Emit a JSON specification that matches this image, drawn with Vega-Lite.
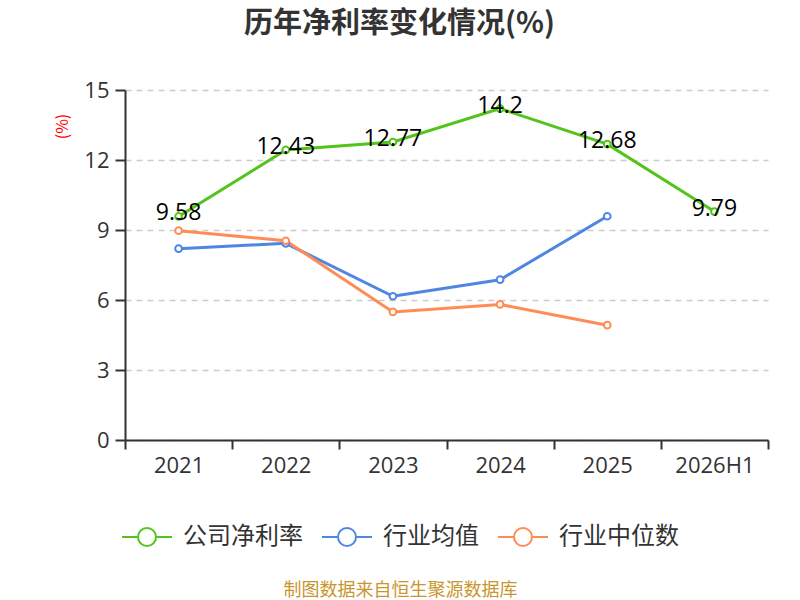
{
  "$schema": "https://vega.github.io/schema/vega-lite/v6.json",
  "width": 643,
  "height": 350,
  "autosize": {"type": "none"},
  "padding": {"left": 125, "top": 90, "right": 32, "bottom": 160},
  "background": "white",
  "config": {
    "font": "Noto Sans CJK SC",
    "view": {"stroke": null}
  },
  "title": {
    "text": "历年净利率变化情况(%)",
    "fontSize": 29,
    "fontWeight": "bold",
    "color": "#333333",
    "font": "Noto Sans CJK SC",
    "anchor": "middle",
    "frame": "group",
    "dx": -47,
    "offset": 40
  },
  "data": {
    "values": [
      {"year": "2021", "series": "公司净利率", "value": 9.58},
      {"year": "2022", "series": "公司净利率", "value": 12.43},
      {"year": "2023", "series": "公司净利率", "value": 12.77},
      {"year": "2024", "series": "公司净利率", "value": 14.2},
      {"year": "2025", "series": "公司净利率", "value": 12.68},
      {"year": "2026H1", "series": "公司净利率", "value": 9.79},
      {"year": "2021", "series": "行业均值", "value": 8.2},
      {"year": "2022", "series": "行业均值", "value": 8.43},
      {"year": "2023", "series": "行业均值", "value": 6.16},
      {"year": "2024", "series": "行业均值", "value": 6.87},
      {"year": "2025", "series": "行业均值", "value": 9.59},
      {"year": "2021", "series": "行业中位数", "value": 8.97},
      {"year": "2022", "series": "行业中位数", "value": 8.54},
      {"year": "2023", "series": "行业中位数", "value": 5.49},
      {"year": "2024", "series": "行业中位数", "value": 5.81},
      {"year": "2025", "series": "行业中位数", "value": 4.92}
    ]
  },
  "encoding": {
    "x": {
      "field": "year",
      "type": "nominal",
      "sort": null,
      "bandPosition": 0.5,
      "scale": {"type": "band", "paddingInner": 0, "paddingOuter": 0},
      "axis": {
        "title": "制图数据来自恒生聚源数据库",
        "titleColor": "#C8962E",
        "titleFont": "Noto Sans CJK SC",
        "titleFontSize": 18,
        "titleFontWeight": "normal",
        "titleX": 275,
        "titleY": 150,
        "titleAlign": "center",
        "titleBaseline": "middle",
        "labelAngle": 0,
        "labelFont": "Open Sans",
        "labelFontSize": 22,
        "labelColor": "#333333",
        "labelPadding": 6,
        "domainColor": "#333333",
        "domainWidth": 2,
        "tickColor": "#333333",
        "tickWidth": 2,
        "tickSize": 9,
        "tickBand": "extent",
        "grid": false
      }
    },
    "y": {
      "field": "value",
      "type": "quantitative",
      "scale": {"domain": [0, 15]},
      "axis": {
        "title": "(%)",
        "titleColor": "#FF0000",
        "titleFont": "Noto Sans CJK SC",
        "titleFontSize": 16,
        "titleFontWeight": "normal",
        "titleX": -63,
        "titleY": 36,
        "titleAlign": "center",
        "titleBaseline": "middle",
        "values": [0, 3, 6, 9, 12, 15],
        "labelFont": "Open Sans",
        "labelFontSize": 22,
        "labelColor": "#333333",
        "labelPadding": 6,
        "domainColor": "#333333",
        "domainWidth": 2,
        "tickColor": "#333333",
        "tickWidth": 2,
        "tickSize": 10,
        "gridColor": "#CCCCCC",
        "gridDash": [6, 5],
        "gridWidth": 1.3
      }
    },
    "color": {
      "field": "series",
      "type": "nominal",
      "scale": {
        "domain": ["公司净利率", "行业均值", "行业中位数"],
        "range": ["#52C41A", "#4F86E3", "#FF8C55"]
      },
      "legend": {
        "title": null,
        "orient": "none",
        "legendX": -4,
        "legendY": 421,
        "direction": "horizontal",
        "symbolType": "M-1,0L-0.36,0M0.36,0L1,0M-0.36,0A0.36,0.36 0 1,1 0.36,0A0.36,0.36 0 1,1 -0.36,0",
        "symbolSize": 2500,
        "symbolStrokeWidth": 2,
        "symbolOpacity": 1,
        "labelFont": "Noto Sans CJK SC",
        "labelFontSize": 24,
        "labelColor": "#333333",
        "labelOffset": 10,
        "columnPadding": 15
      }
    }
  },
  "layer": [
    {
      "mark": {"type": "line", "strokeWidth": 3}
    },
    {
      "mark": {"type": "point", "filled": false, "fill": "white", "fillOpacity": 1, "opacity": 1, "strokeWidth": 2, "size": 45}
    },
    {
      "transform": [{"filter": "datum.series === '公司净利率'"}],
      "mark": {"type": "text", "font": "Open Sans", "fontSize": 23, "color": "#000000", "align": "center", "baseline": "middle", "dy": -3},
      "encoding": {
        "text": {"field": "value", "type": "quantitative"},
        "color": {"value": "#000000"}
      }
    }
  ]
}
